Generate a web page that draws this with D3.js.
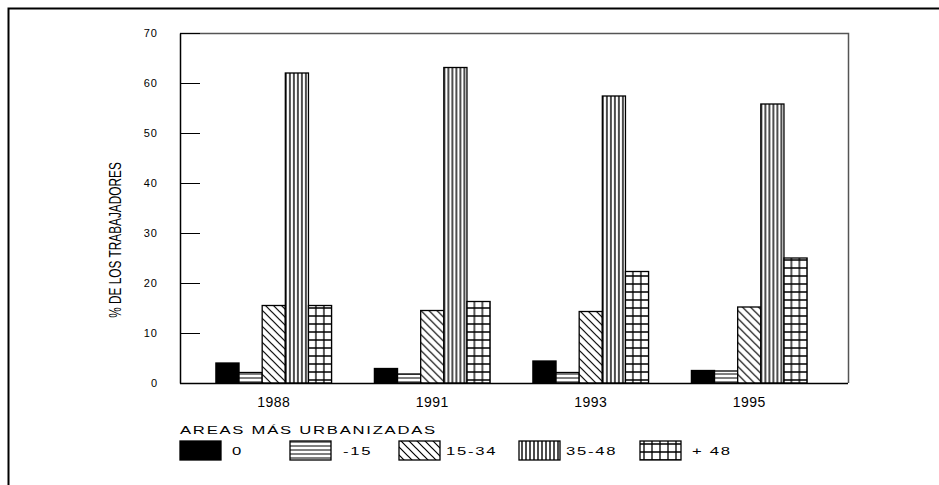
<!DOCTYPE html>
<html>
<head>
<meta charset="utf-8">
<script src="https://cdn.jsdelivr.net/npm/d3@7"></script>
<style>
  body { margin: 0; background: #fff; }
  svg { display: block; font-family: "Liberation Sans", Arial, sans-serif; }
  .axis path, .axis line { stroke: #000; }
  .axis text { fill: #000; }
</style>
</head>
<body>
<svg width="939" height="485"></svg>
<script>
// data
var years = ["1988", "1991", "1993", "1995"];
var keys = ["0", "-15", "15-34", "35-48", "+ 48"];
var s0 = [4.0, 2.9, 4.4, 2.5];
var s15 = [2.1, 1.8, 2.1, 2.4];
var s1534 = [15.5, 14.5, 14.3, 15.2];
var s3548 = [62.0, 63.1, 57.4, 55.8];
var s48 = [15.5, 16.3, 22.3, 25.0];
var yTicks = [0, 10, 20, 30, 40, 50, 60, 70];

var series = [s0, s15, s1534, s3548, s48];
var data = years.map(function(yr, i) {
  var d = {year: yr};
  keys.forEach(function(k, j) { d[k] = series[j][i]; });
  return d;
});

var svg = d3.select("svg");

// outer frame of the scanned page
svg.append("path")
  .attr("d", "M8.5,485 V8.5 H939")
  .attr("fill", "none")
  .attr("stroke", "#000")
  .attr("stroke-width", 2);

var plotLeft = 180, plotRight = 848, plotTop = 33, plotBottom = 383;

var x0 = d3.scaleBand()
  .domain(years)
  .range([194.5, 828.5])
  .paddingInner(0.27)
  .paddingOuter(0.135);

var x1 = d3.scaleBand()
  .domain(keys)
  .range([0, x0.bandwidth()]);

var y = d3.scaleLinear()
  .domain([0, 70])
  .range([plotBottom, plotTop]);

// fill patterns
var defs = svg.append("defs");
function pattern(id, w, h, d, sw) {
  var p = defs.append("pattern")
    .attr("id", id)
    .attr("patternUnits", "userSpaceOnUse")
    .attr("width", w)
    .attr("height", h);
  p.append("rect").attr("width", w).attr("height", h).attr("fill", "#fff");
  p.append("path").attr("d", d).attr("stroke", "#000").attr("stroke-width", sw).attr("fill", "none");
}
pattern("p-h", 6, 4, "M0,2 H6", 1);
pattern("p-d", 8, 8, "M0,0 L8,8 M-2,6 L2,10 M6,-2 L10,2", 1.2);
pattern("p-v", 4, 6, "M2,0 V6", 1.4);
pattern("p-g", 8, 8, "M0,4 H8 M4,0 V8", 1.3);

var fills = d3.scaleOrdinal()
  .domain(keys)
  .range(["#000", "url(#p-h)", "url(#p-d)", "url(#p-v)", "url(#p-g)"]);

// plot box (top and right)
svg.append("path")
  .attr("d", "M" + plotLeft + "," + (plotTop + 0.5) + " H" + (plotRight + 0.5) + " V" + plotBottom)
  .attr("fill", "none")
  .attr("stroke", "#555")
  .attr("stroke-width", 1.5);

// bars
svg.append("g")
  .selectAll("g")
  .data(data)
  .enter().append("g")
  .attr("transform", function(d) { return "translate(" + x0(d.year) + ",0)"; })
  .selectAll("rect")
  .data(function(d) {
    return keys.map(function(k) { return {key: k, value: d[k]}; });
  })
  .enter().append("rect")
  .attr("x", function(d) { return x1(d.key); })
  .attr("y", function(d) { return y(d.value); })
  .attr("width", x1.bandwidth())
  .attr("height", function(d) { return plotBottom - y(d.value); })
  .attr("fill", function(d) { return fills(d.key); })
  .attr("stroke", "#000")
  .attr("stroke-width", 1.3);

// y axis, ticks pointing inward
svg.append("g")
  .attr("class", "axis")
  .attr("transform", "translate(" + plotLeft + ",0)")
  .call(d3.axisLeft(y).tickValues(yTicks).tickSize(-20).tickSizeOuter(0).tickPadding(22))
  .call(function(g) {
    g.selectAll("text").attr("font-size", 11).attr("letter-spacing", 1);
    g.select(".domain").attr("stroke-width", 1.5);
  });

// x axis
svg.append("g")
  .attr("class", "axis")
  .attr("transform", "translate(0," + plotBottom + ")")
  .call(d3.axisBottom(x0).tickSize(0).tickPadding(14))
  .call(function(g) {
    g.select(".domain").attr("d", "M" + plotLeft + ",0.5 H" + plotRight).attr("stroke-width", 1.5);
    g.selectAll("text").attr("font-size", 14).attr("letter-spacing", 0.5);
  });

// y-axis label (condensed look)
svg.append("text")
  .attr("transform", "translate(121,240) rotate(-90) scale(0.74,1)")
  .attr("text-anchor", "middle")
  .attr("font-size", 16)
  .attr("fill", "#000")
  .text("% DE LOS TRABAJADORES");

// legend
svg.append("text")
  .attr("transform", "translate(180,434) scale(1.45,1)")
  .attr("font-size", 11.5)
  .attr("letter-spacing", 1.2)
  .attr("fill", "#000")
  .text("AREAS MÁS URBANIZADAS");

var swatchX = [180, 290, 399, 519, 640];
var labelX = [232, 343, 446, 566, 692];

var legend = svg.append("g")
  .selectAll("g")
  .data(keys)
  .enter().append("g");

legend.append("rect")
  .attr("x", function(d, i) { return swatchX[i]; })
  .attr("y", 441)
  .attr("width", 41)
  .attr("height", 19)
  .attr("fill", fills)
  .attr("stroke", "#000")
  .attr("stroke-width", 1.3);

legend.append("text")
  .attr("transform", function(d, i) { return "translate(" + labelX[i] + ",455) scale(1.45,1)"; })
  .attr("font-size", 11.5)
  .attr("letter-spacing", 1.2)
  .attr("fill", "#000")
  .text(function(d) { return d; });
</script>
</body>
</html>
